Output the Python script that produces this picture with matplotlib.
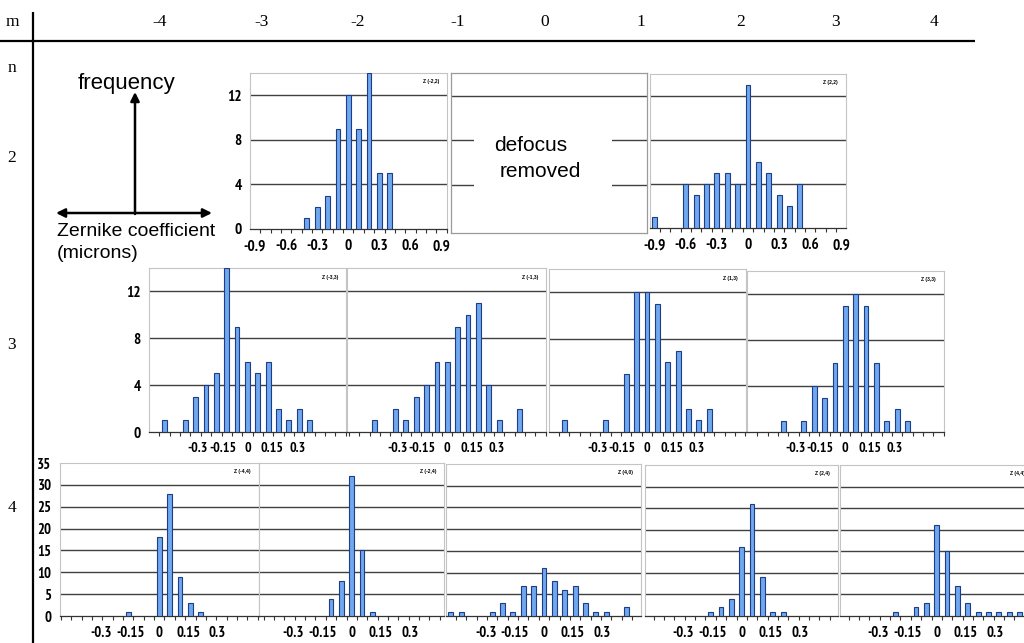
import matplotlib
matplotlib.use('Agg')
import matplotlib.pyplot as plt
from matplotlib.patches import Rectangle
from matplotlib import font_manager as fm
import numpy as np

W, H = 1024, 643

# ---------------- data (bin index relative to the zero bin, counts) ----------------
# row n=2 (bin width 0.1 micron)
z_m2_2_idx = [-4, -3, -2, -1, 0, 1, 2, 3, 4]
z_m2_2_cnt = [1, 2, 3, 9, 12, 9, 14, 5, 5]
z_p2_2_idx = [-9, -6, -5, -4, -3, -2, -1, 0, 1, 2, 3, 4, 5]
z_p2_2_cnt = [1, 4, 3, 4, 5, 5, 4, 13, 6, 5, 3, 2, 4]
# row n=3
z_m3_3_idx = [-8, -6, -5, -4, -3, -2, -1, 0, 1, 2, 3, 4, 5, 6]
z_m3_3_cnt = [1, 1, 3, 4, 5, 14, 9, 6, 5, 6, 2, 1, 2, 1]
z_m1_3_idx = [-7, -5, -4, -3, -2, -1, 0, 1, 2, 3, 4, 5, 7]
z_m1_3_cnt = [1, 2, 1, 3, 4, 6, 6, 9, 10, 11, 4, 1, 2]
z_p1_3_idx = [-8, -4, -2, -1, 0, 1, 2, 3, 4, 5, 6]
z_p1_3_cnt = [1, 1, 5, 12, 12, 11, 6, 7, 2, 1, 2]
z_p3_3_idx = [-6, -4, -3, -2, -1, 0, 1, 2, 3, 4, 5, 6]
z_p3_3_cnt = [1, 1, 4, 3, 6, 11, 12, 11, 6, 1, 2, 1]
# row n=4
z_m4_4_idx = [-3, 0, 1, 2, 3, 4]
z_m4_4_cnt = [1, 18, 28, 9, 3, 1]
z_m2_4_idx = [-2, -1, 0, 1, 2]
z_m2_4_cnt = [4, 8, 32, 15, 1]
z_p0_4_idx = [-9, -8, -5, -4, -3, -2, -1, 0, 1, 2, 3, 4, 5, 6, 8]
z_p0_4_cnt = [1, 1, 1, 3, 1, 7, 7, 11, 8, 6, 7, 3, 1, 1, 2]
z_p2_4_idx = [-3, -2, -1, 0, 1, 2, 3, 4]
z_p2_4_cnt = [1, 2, 4, 16, 26, 9, 1, 1]
z_p4_4_idx = [-4, -2, -1, 0, 1, 2, 3, 4, 5, 6, 7, 8]
z_p4_4_cnt = [1, 2, 3, 21, 15, 7, 3, 1, 1, 1, 1, 1]

bin_width = {2: 0.1, 3: 0.0625, 4: 0.0535}
row2_xticks = [-0.9, -0.6, -0.3, 0, 0.3, 0.6, 0.9]
row2_xlabels = ['-0.9', '-0.6', '-0.3', '0', '0.3', '0.6', '0.9']
row34_xticks = [-0.3, -0.15, 0, 0.15, 0.3]
row34_xlabels = ['-0.3', '-0.15', '0', '0.15', '0.3']
row23_yticks = [0, 4, 8, 12]
row4_yticks = [0, 5, 10, 15, 20, 25, 30, 35]

m_labels = ['-4', '-3', '-2', '-1', '0', '1', '2', '3', '4']
m_label_x = [160, 262, 358, 458, 545, 641, 741, 836, 934]
n_labels = ['2', '3', '4']
n_label_y = [158, 345, 508]

BAR_FC = '#6FA8EE'
BAR_EC = '#1F3C88'
GRID_C = '#404040'
FRAME_C = '#c4c4c4'
SANS = ['Liberation Sans', 'DejaVu Sans']
SERIF = ['Liberation Serif', 'DejaVu Serif']
PX_PER_BIN = 10.36


def _is_bold(w):
    try:
        return int(w) >= 600
    except (TypeError, ValueError):
        return str(w).lower() in ('bold', 'heavy', 'black', 'extra bold', 'demibold', 'semibold')


# pick a bold condensed face for the tick labels if one is installed
_cand = None
for f in fm.fontManager.ttflist:
    cond = ('Narrow' in f.name or 'Condensed' in f.name or
            str(f.stretch) in ('condensed', 'semi-condensed', 'extra-condensed'))
    if cond and _is_bold(f.weight):
        _cand = f
        if 'Narrow' in f.name:
            break
if _cand is not None:
    TICK_KW = dict(family=[_cand.name, 'Liberation Sans'], fontweight=_cand.weight,
                   fontstretch=_cand.stretch)
    TICK_FS = {2: 11, 3: 10, 4: 10.5}
    YTICK_FS = {2: 11, 3: 11, 4: 10.5}
else:
    TICK_KW = dict(family=['Liberation Sans', 'DejaVu Sans'], fontweight='bold')
    TICK_FS = {2: 9, 3: 8, 4: 8.5}
    YTICK_FS = {2: 9, 3: 9, 4: 8.5}

fig = plt.figure(figsize=(W / 100, H / 100), dpi=100)

# ---------------- overlay (pixel coordinates) ----------------
bg = fig.add_axes([0, 0, 1, 1])
bg.set_xlim(0, W)
bg.set_ylim(H, 0)
bg.axis('off')
bg.plot([0, 975], [40.5, 40.5], color='black', lw=1.6, solid_capstyle='butt')
bg.plot([33, 33], [12, H], color='black', lw=1.6, solid_capstyle='butt')
bg.text(12, 22, 'm', family=SERIF, fontsize=12.5, ha='center', va='center')
for lab, x in zip(m_labels, m_label_x):
    bg.text(x, 22, lab, family=SERIF, fontsize=12.5, ha='center', va='center')
bg.text(12, 68, 'n', family=SERIF, fontsize=12.5, ha='center', va='center')
for lab, y in zip(n_labels, n_label_y):
    bg.text(12, y, lab, family=SERIF, fontsize=12.5, ha='center', va='center')

bg.text(127, 83, 'frequency', family=SANS, fontsize=16, ha='center', va='center')
bg.annotate('', xy=(135, 92), xytext=(135, 214),
            arrowprops=dict(arrowstyle='-|>', lw=1.8, color='black', mutation_scale=13,
                            shrinkA=0, shrinkB=0))
bg.annotate('', xy=(56, 213), xytext=(212, 213),
            arrowprops=dict(arrowstyle='<|-|>', lw=1.8, color='black', mutation_scale=13,
                            shrinkA=0, shrinkB=0))
bg.text(57, 231, 'Zernike coefficient', family=SANS, fontsize=14, ha='left', va='center')
bg.text(57, 254, '(microns)', family=SANS, fontsize=14, ha='left', va='center')


def panel(rect, x0, row, idx, cnt, label, show_y):
    l, t, r, b = rect
    bw = bin_width[row]
    ax = fig.add_axes([l / W, 1 - b / H, (r - l) / W, (b - t) / H])
    xmin = (l - x0) / PX_PER_BIN * bw
    xmax = (r - x0) / PX_PER_BIN * bw
    ax.set_xlim(xmin, xmax)
    if row == 4:
        ymax, yt = 35, row4_yticks
        xt, xl = row34_xticks, row34_xlabels
    else:
        ymax, yt = 14, row23_yticks
        xt, xl = (row2_xticks, row2_xlabels) if row == 2 else (row34_xticks, row34_xlabels)
    ax.set_ylim(0, ymax)
    for yv in yt[1:]:
        if yv < ymax:
            ax.axhline(yv, color=GRID_C, lw=1.0, zorder=1)
    x = np.array(idx) * bw
    ax.bar(x, cnt, width=0.47 * bw, color=BAR_FC, edgecolor=BAR_EC, lw=0.8, zorder=3)
    for s in ['left', 'top', 'right']:
        ax.spines[s].set_color(FRAME_C)
        ax.spines[s].set_linewidth(0.8)
    ax.spines['bottom'].set_color('#333333')
    ax.spines['bottom'].set_linewidth(0.9)
    ax.set_xticks(xt)
    ax.set_xticklabels(xl, fontsize=TICK_FS[row], **TICK_KW)
    kmin = int(np.floor(xmin / bw - 0.5))
    kmax = int(np.ceil(xmax / bw + 0.5))
    minor = [(k + 0.5) * bw for k in range(kmin, kmax + 1) if xmin <= (k + 0.5) * bw <= xmax]
    ax.set_xticks(minor, minor=True)
    ax.tick_params(axis='x', which='major', length=0, pad=7.5)
    ax.tick_params(axis='x', which='minor', length=3, width=0.8, color='#333333', direction='out')
    if show_y:
        ax.set_yticks(yt)
        ax.set_yticklabels([str(v) for v in yt], fontsize=YTICK_FS[row], **TICK_KW)
        ax.tick_params(axis='y', length=0, pad=6)
    else:
        ax.set_yticks([])
    ax.text(0.96, 0.96, label, transform=ax.transAxes, family=SANS, fontsize=3.6,
            fontweight='bold', ha='right', va='top', clip_on=False)
    ax.set_facecolor('white')
    return ax


# row 2
panel((250, 73, 447, 229), 348.3, 2, z_m2_2_idx, z_m2_2_cnt, 'Z (-2,2)', True)
panel((650, 74, 846, 228), 748.0, 2, z_p2_2_idx, z_p2_2_cnt, 'Z (2,2)', False)

# defocus removed box
l, t, r, b = 451, 73, 647, 233
dax = fig.add_axes([l / W, 1 - b / H, (r - l) / W, (b - t) / H])
dax.set_xlim(0, 1)
dax.set_ylim(-0.36, 14.1)
for yv in row23_yticks[1:]:
    dax.axhline(yv, color=GRID_C, lw=1.0, zorder=1)
dax.add_patch(Rectangle(((474 - l) / (r - l), 1.5), (612 - 474) / (r - l), 9.6,
                        facecolor='white', edgecolor='none', zorder=2))
dax.text((531 - l) / (r - l), (229 - 146) / 11.05, 'defocus', family=SANS, fontsize=15,
         ha='center', va='center', zorder=3)
dax.text((540 - l) / (r - l), (229 - 172) / 11.05, 'removed', family=SANS, fontsize=15,
         ha='center', va='center', zorder=3)
dax.set_xticks([])
dax.set_yticks([])
for s in dax.spines.values():
    s.set_color('#9a9a9a')
    s.set_linewidth(0.9)

# row 3
panel((149, 268, 346, 432), 247.4, 3, z_m3_3_idx, z_m3_3_cnt, 'Z (-3,3)', True)
panel((347, 268, 546, 432), 447.3, 3, z_m1_3_idx, z_m1_3_cnt, 'Z (-1,3)', False)
panel((549, 269, 746, 432), 647.0, 3, z_p1_3_idx, z_p1_3_cnt, 'Z (1,3)', False)
panel((747, 271, 944, 432), 845.3, 3, z_p3_3_idx, z_p3_3_cnt, 'Z (3,3)', False)

# row 4
panel((60, 463, 259, 616), 159.3, 4, z_m4_4_idx, z_m4_4_cnt, 'Z (-4,4)', True)
panel((259, 463, 444, 616), 351.7, 4, z_m2_4_idx, z_m2_4_cnt, 'Z (-2,4)', False)
panel((446, 464, 641, 616), 544.0, 4, z_p0_4_idx, z_p0_4_cnt, 'Z (4,0)', False)
panel((645, 465, 838, 616), 741.7, 4, z_p2_4_idx, z_p2_4_cnt, 'Z (2,4)', False)
panel((840, 465, 1033, 616), 936.7, 4, z_p4_4_idx, z_p4_4_cnt, 'Z (4,4)', False)

fig.savefig('out.png', dpi=100)
